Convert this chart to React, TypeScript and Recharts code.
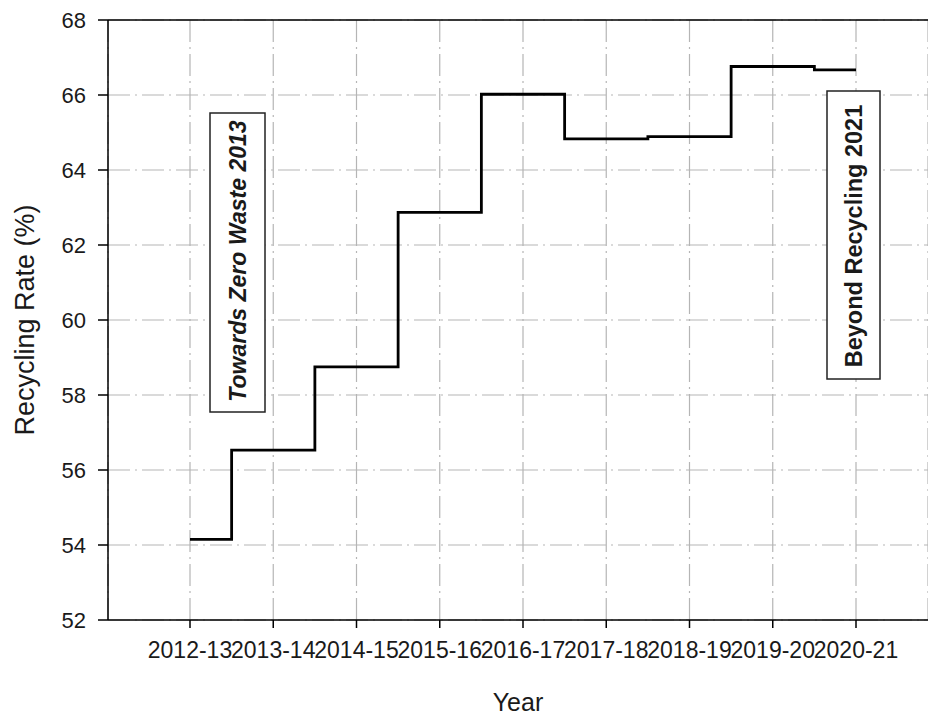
import React from "react";
import {
  LineChart,
  Line,
  XAxis,
  YAxis,
  CartesianGrid,
  ReferenceLine,
} from "recharts";

// Financial years on the x axis
const years = [
  "2012-13",
  "2013-14",
  "2014-15",
  "2015-16",
  "2016-17",
  "2017-18",
  "2018-19",
  "2019-20",
  "2020-21",
];

// Recycling rate (%) per year
const rates = [54.15, 56.53, 58.75, 62.87, 66.02, 64.83, 64.89, 66.76, 66.67];

const yTicks = [52, 54, 56, 58, 60, 62, 64, 66, 68];

const data = years.map((year, i) => ({ year, rate: rates[i] }));

const FONT = "'Liberation Sans', Arial, sans-serif";
const TEXT = "#1a1a1a";

export default function App() {
  return (
    <div
      style={{
        position: "fixed",
        left: 0,
        top: 0,
        width: 928,
        height: 717,
        overflow: "hidden",
        background: "#fff",
        fontFamily: FONT,
      }}
    >
      <LineChart
        width={928}
        height={717}
        data={data}
        margin={{ top: 20, right: 0, bottom: 0, left: 0 }}
      >
        <CartesianGrid
          stroke="#b5b5b5"
          strokeWidth={1.2}
          strokeDasharray="22 5 2 5"
        />
        <ReferenceLine y={68} stroke="#000" strokeWidth={1.5} />
        <XAxis
          dataKey="year"
          padding={{ left: 82, right: 72 }}
          height={97}
          tickSize={8}
          tickMargin={14}
          axisLine={{ stroke: "#000", strokeWidth: 1.5 }}
          tickLine={{ stroke: "#000", strokeWidth: 1.5 }}
          tick={{ fontSize: 23, fill: TEXT, fontFamily: FONT }}
          interval={0}
          label={{
            value: "Year",
            position: "insideBottom",
            offset: 6,
            fontSize: 25,
            fill: TEXT,
            fontFamily: FONT,
          }}
        />
        <YAxis
          domain={[52, 68]}
          ticks={yTicks}
          width={108}
          tickSize={10}
          tickMargin={12}
          axisLine={{ stroke: "#000", strokeWidth: 1.5 }}
          tickLine={{ stroke: "#000", strokeWidth: 1.5 }}
          tick={{ fontSize: 22, fill: TEXT, fontFamily: FONT }}
          label={{
            value: "Recycling Rate (%)",
            angle: -90,
            position: "insideLeft",
            offset: 24,
            fontSize: 27,
            fill: TEXT,
            fontFamily: FONT,
            style: { textAnchor: "middle" },
          }}
        />
        <Line
          type="step"
          dataKey="rate"
          stroke="#000"
          strokeWidth={2.8}
          dot={false}
          activeDot={false}
          isAnimationActive={false}
        />
      </LineChart>

      {/* policy annotations */}
      <svg
        width={928}
        height={717}
        style={{ position: "absolute", left: 0, top: 0, pointerEvents: "none" }}
      >
        <rect x={210} y={113} width={55} height={299} fill="#fff" stroke="#222" strokeWidth={1.5} />
        <text
          x={237.5}
          y={261}
          transform="rotate(-90 237.5 261)"
          textAnchor="middle"
          dominantBaseline="central"
          fontSize={23}
          fontWeight="bold"
          fontStyle="italic"
          fontFamily={FONT}
          fill={TEXT}
        >
          Towards Zero Waste 2013
        </text>
        <rect x={827} y={91} width={53} height={288} fill="#fff" stroke="#222" strokeWidth={1.5} />
        <text
          x={854}
          y={236}
          transform="rotate(-90 854 236)"
          textAnchor="middle"
          dominantBaseline="central"
          fontSize={23.5}
          fontWeight="bold"
          fontFamily={FONT}
          fill={TEXT}
        >
          Beyond Recycling 2021
        </text>
      </svg>
    </div>
  );
}
